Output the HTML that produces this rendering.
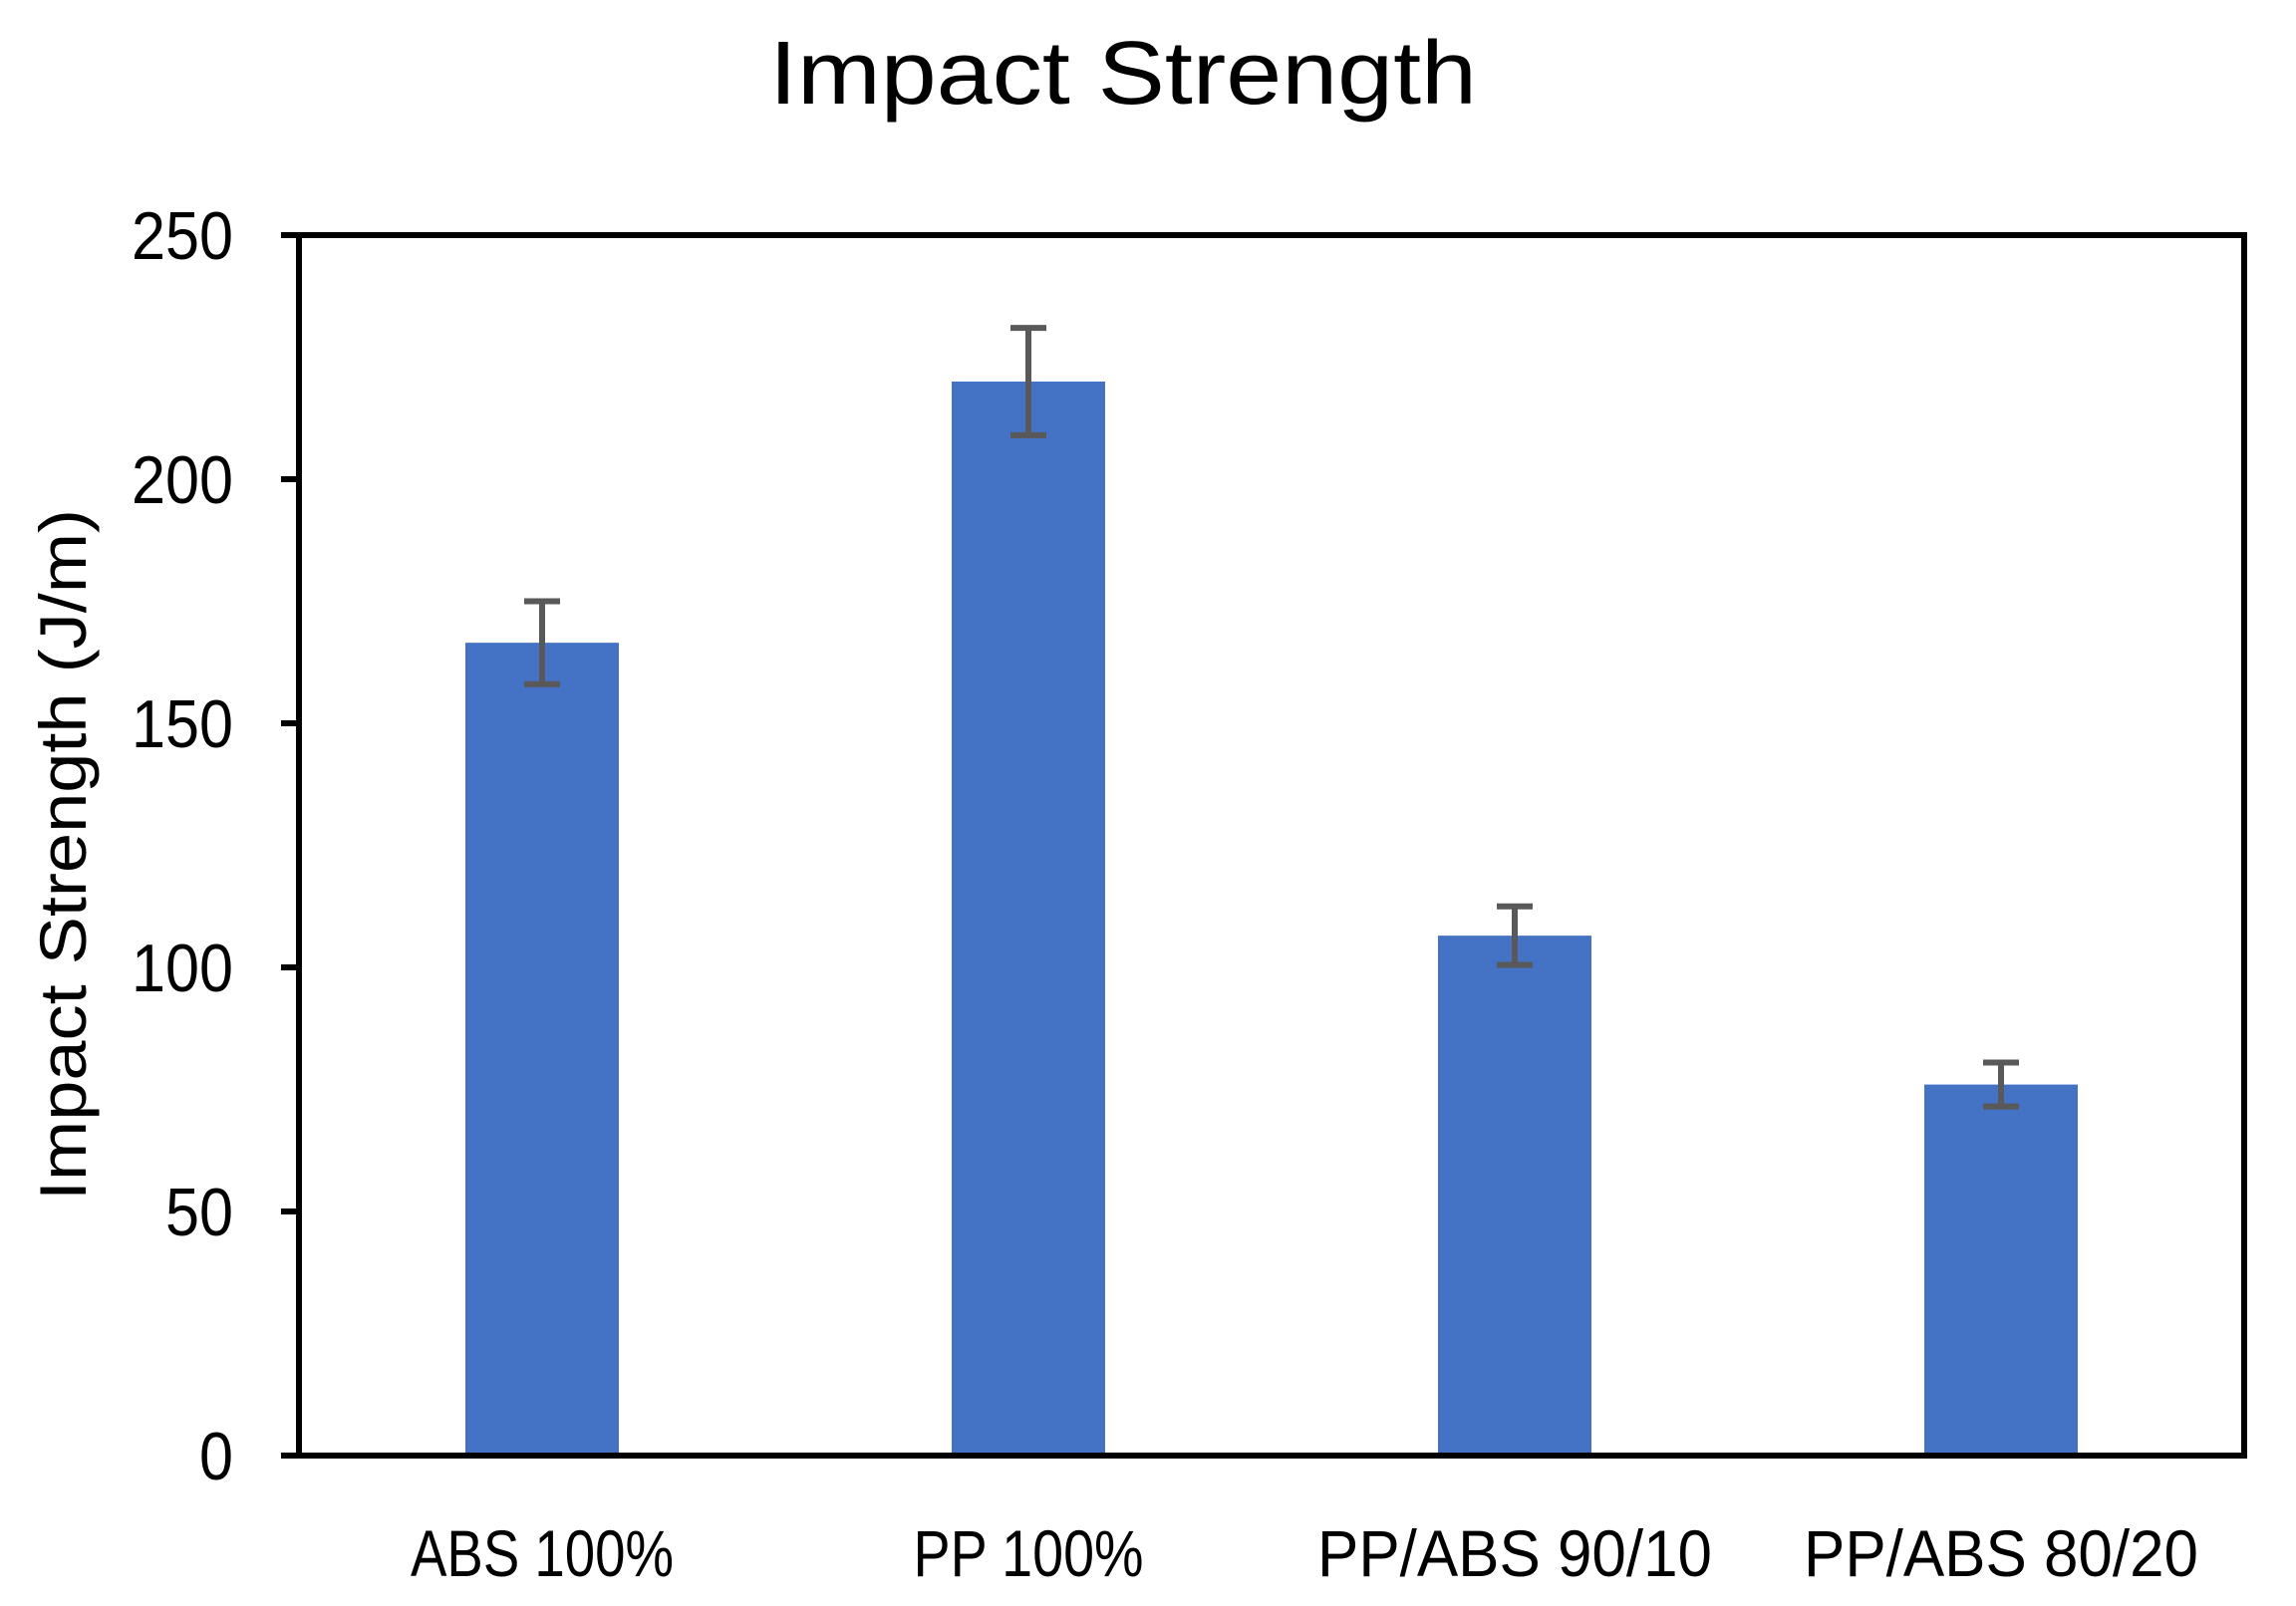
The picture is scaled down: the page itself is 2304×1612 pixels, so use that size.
<!DOCTYPE html>
<html><head><meta charset="utf-8"><style>body{margin:0;background:#fff}svg{display:block}</style></head>
<body>
<svg id="chart" width="2304" height="1612" viewBox="0 0 2304 1612" xmlns="http://www.w3.org/2000/svg" font-family="'Liberation Sans', sans-serif">
<rect width="2304" height="1612" fill="#fff"/>
<text x="1127" y="104" font-size="90" text-anchor="middle" textLength="710" lengthAdjust="spacingAndGlyphs">Impact Strength</text>
<text transform="translate(86,858) rotate(-90)" font-size="66" text-anchor="middle" textLength="694" lengthAdjust="spacingAndGlyphs">Impact Strength (J/m)</text>
<g id="plot"></g>
</svg>
<script>
const categories = ["ABS 100%", "PP 100%", "PP/ABS 90/10", "PP/ABS 80/20"];
const values = [166.5, 220, 106.5, 76];
const errors = [8.5, 11, 6, 4.5];
const yTicks = [0, 50, 100, 150, 200, 250];

const L = 300, R = 2252, T = 236, B = 1461, yMax = 250;
const y = v => B - v / yMax * (B - T);
const band = (R - L) / categories.length;
const xc = i => L + band * (i + 0.5);
const bw = 154;
const NS = "http://www.w3.org/2000/svg";
const g = document.getElementById('plot');
function mk(tag, attrs) { const e = document.createElementNS(NS, tag); for (const k in attrs) e.setAttribute(k, attrs[k]); g.appendChild(e); return e; }

categories.forEach((c, i) => {
  const b = mk('rect', { x: xc(i) - bw / 2, y: y(values[i]), width: bw, height: B - y(values[i]), fill: '#4472C4' });
  
  
  const eb = mk('path', { d: `M${xc(i)},${y(values[i] + errors[i])}V${y(values[i] - errors[i])}M${xc(i) - 18},${y(values[i] + errors[i])}h36M${xc(i) - 18},${y(values[i] - errors[i])}h36`, stroke: '#595959', 'stroke-width': 6, fill: 'none' });
  
  
  const t = mk('text', { x: xc(i), y: 1582, 'font-size': 66, 'text-anchor': 'middle', textLength: c.length * 33, lengthAdjust: 'spacingAndGlyphs' });
  t.textContent = c;
  
  
});

yTicks.forEach(v => {
  const tk = mk('line', { x1: L - 18, x2: L, y1: y(v), y2: y(v), stroke: '#000', 'stroke-width': 6 });
  
  
  const s = String(v);
  const t = mk('text', { x: 234, y: y(v) + 24, 'font-size': 68, 'text-anchor': 'end', textLength: s.length * 34, lengthAdjust: 'spacingAndGlyphs' });
  t.textContent = s;
  
  
});

const frame = mk('rect', { x: L, y: T, width: R - L, height: B - T, fill: 'none', stroke: '#000', 'stroke-width': 6 });


</script>
</body></html>
